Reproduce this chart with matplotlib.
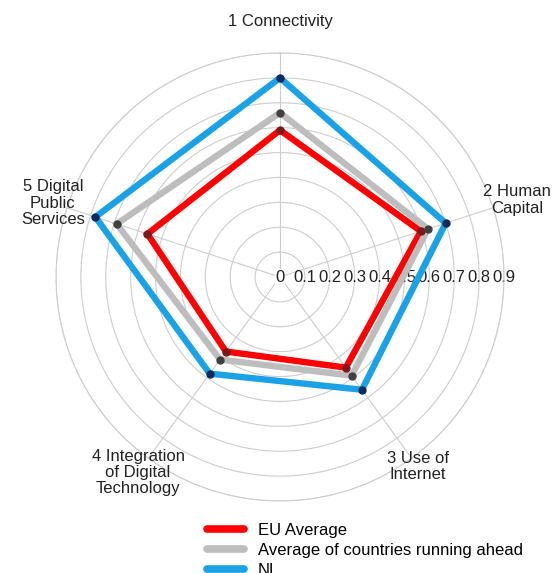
import numpy as np
import matplotlib
matplotlib.use("Agg")
import matplotlib.pyplot as plt

plt.rcParams['font.family'] = ['Liberation Sans', 'DejaVu Sans']

# 数据
categories = ["1 Connectivity", "2 Human\nCapital", "3 Use of\nInternet",
              "4 Integration\nof Digital\nTechnology", "5 Digital\nPublic\nServices"]
eu_average = [0.59, 0.595, 0.45, 0.37, 0.56]
running_ahead = [0.66, 0.625, 0.49, 0.41, 0.69]
nl = [0.80, 0.70, 0.56, 0.48, 0.78]
ring_ticks = [0, 0.1, 0.2, 0.3, 0.4, 0.5, 0.6, 0.7, 0.8, 0.9]
ring_labels = ["0", "0.1", "0.2", "0.3", "0.4", "0.5", "0.6", "0.7", "0.8", "0.9"]

series = [
    ("EU Average", eu_average, "#ff0000", "#7a1a1a"),
    ("Average of countries running ahead", running_ahead, "#bdbdbd", "#404040"),
    ("NL", nl, "#1ba1e6", "#0c2a5c"),
]

n = len(categories)
angles = np.arange(n) * 2 * np.pi / n

fig = plt.figure(figsize=(5.52, 5.73), dpi=100)
ax = fig.add_axes([56 / 552, 72 / 573, 448 / 552, 448 / 573], polar=True)
ax.set_theta_zero_location("N")
ax.set_theta_direction(-1)
ax.set_ylim(0, 0.9)

ax.set_xticks(angles)
ax.set_xticklabels([])
ax.set_yticks(ring_ticks)
ax.set_yticklabels([])
ax.grid(True, color="#cdcdcd", linewidth=0.8)
ax.spines["polar"].set_color("#cdcdcd")
ax.spines["polar"].set_linewidth(0.8)
ax.tick_params(length=0)

for name, vals, col, mcol in series:
    th = np.append(angles, angles[0])
    rr = np.append(vals, vals[0])
    ax.plot(th, rr, color=col, linewidth=4.6, solid_joinstyle="miter",
            solid_capstyle="round", label=name, zorder=3)
    ax.plot(angles, vals, linestyle="none", marker="o", markersize=5,
            color=mcol, zorder=4)

# 径向刻度标签，放在向右的轴上（线条压在标签上面）
for t, lab in zip(ring_ticks, ring_labels):
    ax.text(np.pi / 2, t, lab, ha="center", va="center", fontsize=12,
            color="#222222", zorder=2,
            bbox=dict(facecolor="white", edgecolor="none", pad=0.5) if t == 0 else None)

# 类别标签
label_r = [1.025, 1.0, 0.94, 0.97, 0.96]
for a, lab, r in zip(angles, categories, label_r):
    ax.text(a, r, lab, ha="center", va="center", multialignment="center",
            fontsize=12, color="#222222", clip_on=False, linespacing=1.1)

leg = fig.legend(loc="upper left", bbox_to_anchor=(207 / 552, 1 - 523 / 573),
                 frameon=False, fontsize=12, handlelength=2.2,
                 handletextpad=0.85, labelspacing=0.3, borderpad=0,
                 borderaxespad=0)
for line in leg.get_lines():
    line.set_linewidth(5.5)
    line.set_solid_capstyle("round")

fig.savefig("out.png", dpi=100)
